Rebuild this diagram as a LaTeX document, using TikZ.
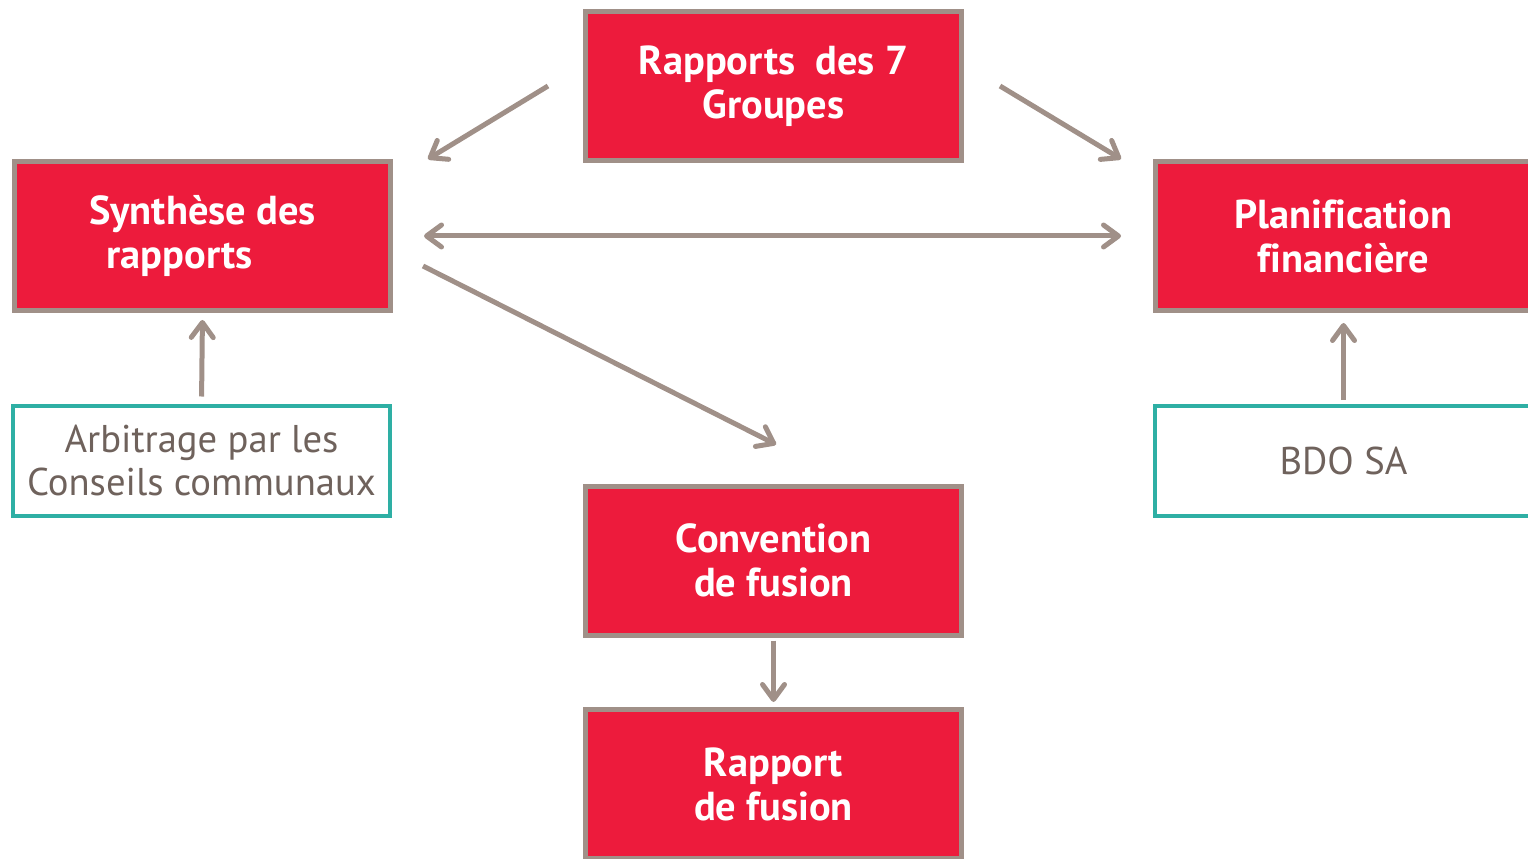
\documentclass[tikz,border=0pt]{standalone}
\usepackage{fontspec}
\setmainfont[Ligatures=NoCommon]{PT Sans}
\usepackage{tikz}
\usetikzlibrary{arrows.meta,calc}

\definecolor{boxred}{HTML}{ED1B3C}
\definecolor{boxedge}{HTML}{A09088}
\definecolor{boxteal}{HTML}{2EAFA4}
\definecolor{textgray}{HTML}{6F625C}

\begin{document}
\begin{tikzpicture}[
    redbox/.style={draw=boxedge, fill=boxred, line width=0.1cm, text=white,
        font=\fontsize{23}{25}\selectfont\bfseries, align=center,
        minimum width=7.52cm, minimum height=2.98cm, inner sep=0pt},
    tealbox/.style={draw=boxteal, fill=white, line width=0.08cm, text=textgray,
        font=\fontsize{22}{25}\selectfont, align=center,
        minimum width=7.55cm, minimum height=2.2cm, inner sep=0pt},
    flow/.style={draw=boxedge, line width=0.1cm,
        -{Straight Barb[length=0.3cm,width=0.44cm,round]}},
    ]
                \path[use as bounding box, clip] (0,0) rectangle (30.56,-17.18);

                \node[redbox] (groupes) at (15.47,-1.72) {Rapports\ \ des 7\\Groupes};
                \node[redbox] (synthese) at (4.05,-4.72) {Synth\`ese des\\rapports\hspace*{0.92cm}};
                \node[redbox] (planif) at (26.87,-4.72) {Planification\\financi\`ere};
                \node[redbox] (convention) at (15.47,-11.21) {Convention\\de fusion};
                \node[redbox] (rapport) at (15.47,-15.68) {Rapport\\de fusion};

                \node[tealbox] (arbitrage) at (4.03,-9.21) {Arbitrage par les\\Conseils communaux};
                \node[tealbox] (bdo) at (26.87,-9.22) {BDO SA};

                \draw[flow] ($(groupes.west)+(-0.7,0)$) -- ($(synthese.north east)+(0.7,0)$);
                \draw[flow] ($(groupes.east)+(0.72,0)$) -- ($(planif.north west)+(-0.64,0)$);
                \draw[flow, {Straight Barb[length=0.3cm,width=0.44cm,round]}-{Straight Barb[length=0.3cm,width=0.44cm,round]}]
                    ($(synthese.east)+(0.62,0)$) -- ($(planif.west)+(-0.64,0)$);
                \draw[flow] ($(synthese.east)+(0.6,-0.6)$) -- ($(convention.north)+(0.05,0.78)$);

                \draw[flow, shorten <=0.14cm, shorten >=0.14cm] (arbitrage.north) -- (synthese.south);
                \draw[flow, shorten <=0.08cm, shorten >=0.2cm] (bdo.north) -- (planif.south);
                \draw[flow, shorten <=0.06cm, shorten >=0.1cm] (convention.south) -- (rapport.north);
            \end{tikzpicture}
\end{document}
